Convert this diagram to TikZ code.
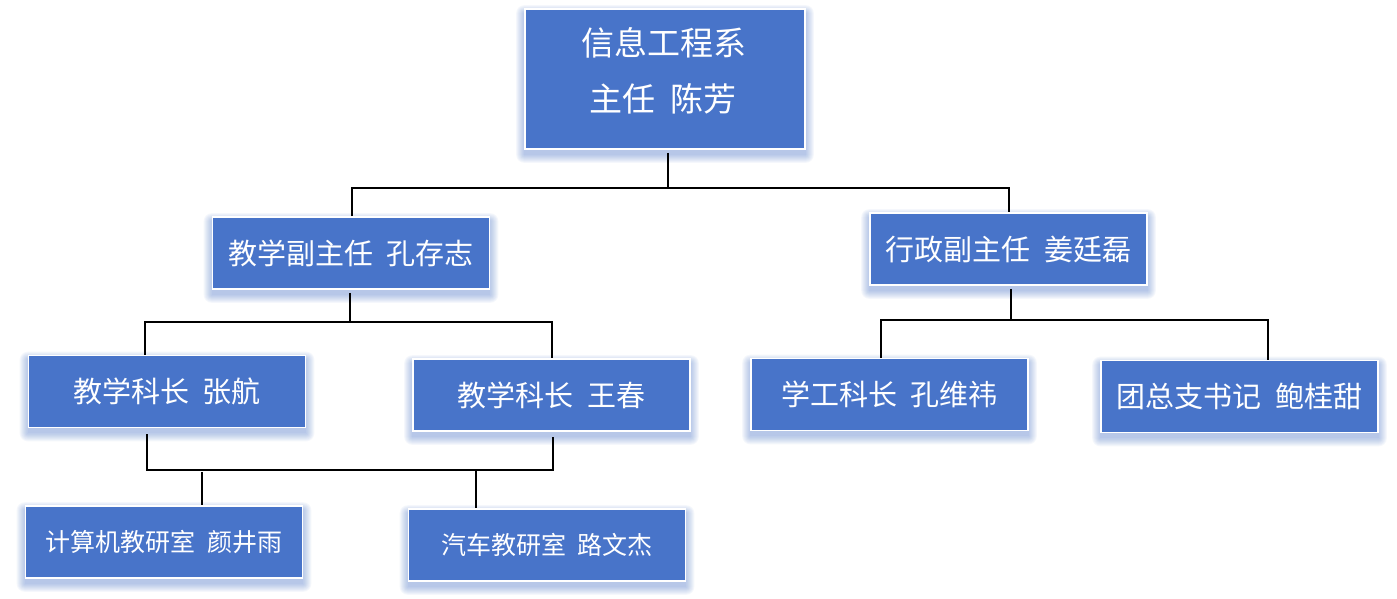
\documentclass[tikz,border=0pt]{standalone}
\usepackage{fontspec}
\newfontfamily\cjk{Noto Sans CJK SC}
\usetikzlibrary{backgrounds,calc}
\definecolor{boxblue}{HTML}{4874C9}
\definecolor{shblue}{HTML}{4874C9}
\tikzset{
  orgbox/.style={draw=white, line width=1.6pt, fill=boxblue, text=white,
    inner sep=0pt, minimum width=277pt, minimum height=72pt, font=\cjk\fontsize{29}{34}\selectfont},
  smallbox/.style={orgbox, font=\cjk\fontsize{25}{30}\selectfont},
  toptext/.style={text=white, inner sep=0pt, font=\cjk\fontsize{33}{38}\selectfont},
  conn/.style={draw=black, line width=1.8pt, line join=miter},
  fromsouth/.style={shorten <=3pt},
}
\newcommand{\gap}{\hspace{0.45em}}
\begin{document}
\begin{tikzpicture}[x=1pt,y=-1pt]
\useasboundingbox (0,0) rectangle (1397,598);

% boxes
\node[orgbox, minimum width=280pt, minimum height=140pt] (top) at (665,79) {};
\node[toptext] (topl1) at (664,43) {信息工程系};
\node[toptext] (topl2) at (663,99) {主任\gap 陈芳};

\node[orgbox] (A) at (351,253) {教学副主任\gap 孔存志};
\node[orgbox] (B) at (1008.5,249) {行政副主任\gap 姜廷磊};
\node[orgbox] (C) at (167,391.5) {教学科长\gap 张航};
\node[orgbox] (D) at (551.5,395) {教学科长\gap 王春};
\node[orgbox] (E) at (889.5,394.5) {学工科长\gap 孔维祎};
\node[orgbox] (F) at (1239.5,396.5) {团总支书记\gap 鲍桂甜};
\node[smallbox] (G) at (164,542) {计算机教研室\gap 颜井雨};
\node[smallbox] (H) at (547,545) {汽车教研室\gap 路文杰};

% shadows
\begin{scope}[on background layer]
  \fill[white] (0,0) rectangle (1397,598);
  \foreach \n in {top,A,B,C,D,E,F,G,H}{
    \foreach \k in {0,...,8}{
      \fill[shblue, opacity=0.05, rounded corners=\k pt]
        ($(\n.south west)+(-\k,5+\k)$) rectangle ($(\n.north east)+(\k,5-\k)$);
    }
  }
\end{scope}

% junctions
\coordinate (jTop) at (668,188);
\coordinate (jTopL) at (352,188);
\coordinate (jTopR) at (1009,188);
\coordinate (jA) at (350,322);
\coordinate (jAL) at (145,322);
\coordinate (jAR) at (552,322);
\coordinate (jB) at (1011,320);
\coordinate (jBL) at (881,320);
\coordinate (jBR) at (1268,320);
\coordinate (jC) at (147,470);
\coordinate (jD) at (553,470);
\coordinate (jG) at (202,470);
\coordinate (jH) at (476,470);

% connectors
\draw[conn, fromsouth] (jTop |- top.south) -- (jTop);
\draw[conn] (jTopL |- A.north) -- (jTopL) -- (jTopR) -- (jTopR |- B.north);

\draw[conn, fromsouth] (jA |- A.south) -- (jA);
\draw[conn] (jAL |- C.north) -- (jAL) -- (jAR) -- (jAR |- D.north);

\draw[conn, fromsouth] (jB |- B.south) -- (jB);
\draw[conn] (jBL |- E.north) -- (jBL) -- (jBR) -- (jBR |- F.north);

\draw[conn, shorten <=6pt] (jC |- C.south) -- (jC) -- (jD) -- ([yshift=-5pt]jD |- D.south);
\draw[conn] ([yshift=-2pt]jG) -- (jG |- G.north);
\draw[conn] (jH) -- (jH |- H.north);
\end{tikzpicture}
\end{document}
